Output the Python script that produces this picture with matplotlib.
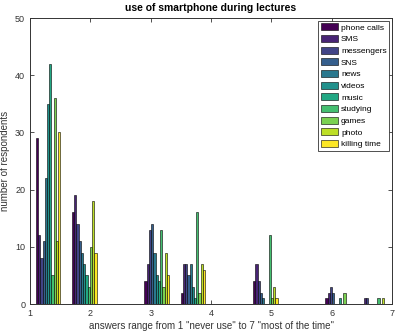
import numpy as np
import matplotlib
matplotlib.use("Agg")
import matplotlib.pyplot as plt

plt.rcParams['font.family'] = ['Liberation Sans', 'DejaVu Sans']

# histogram bin centres that hold data (bins of width 0.6 on [1, 7])
bin_centres = [1.3, 1.9, 3.1, 3.7, 4.9, 6.1, 6.7]
activities = ['phone calls', 'SMS', 'messengers', 'SNS', 'news', 'videos',
              'music', 'studying', 'games', 'photo', 'killing time']

# counts per activity, one value per bin centre
phone_calls  = [29, 16, 4, 2, 4, 1, 0]
sms          = [12, 19, 7, 7, 7, 2, 1]
messengers   = [8, 14, 13, 7, 4, 3, 1]
sns          = [11, 11, 14, 5, 2, 2, 0]
news         = [22, 9, 9, 7, 1, 0, 0]
videos       = [35, 7, 5, 3, 0, 0, 0]
music        = [42, 5, 4, 1, 0, 1, 0]
studying     = [5, 3, 13, 16, 12, 0, 1]
games        = [36, 10, 3, 2, 1, 2, 0]
photo        = [11, 18, 9, 7, 3, 0, 1]
killing_time = [30, 9, 5, 6, 1, 0, 0]

series = [phone_calls, sms, messengers, sns, news, videos,
          music, studying, games, photo, killing_time]

fig = plt.figure(figsize=(3.98, 3.34), dpi=100)
ax = fig.add_axes([0.0754, 0.0898, 0.9096, 0.8562])

colors = plt.cm.viridis(np.linspace(0, 1, len(series)))
n = len(series)
bw = 0.037
x = np.array(bin_centres)
for i, (vals, lab) in enumerate(zip(series, activities)):
    off = (i - (n - 1) / 2) * bw
    ax.bar(x + off, vals, width=bw, color=colors[i], edgecolor='black',
           linewidth=0.4, label=lab)

ax.set_xlim(1, 7)
ax.set_ylim(0, 50)
ax.set_xticks(range(1, 8))
ax.set_yticks(range(0, 51, 10))
ax.tick_params(direction='in', top=True, right=True, labelsize=6.5,
               length=3, width=0.6, colors='#333333', labelcolor='#333333')
for s in ax.spines.values():
    s.set_linewidth(0.7)
    s.set_color('#333333')

ax.set_title('use of smartphone during lectures', fontsize=7.5,
             fontweight='bold', pad=5)
ax.set_xlabel('answers range from 1 "never use" to 7 "most of the time"',
              fontsize=7, labelpad=2, color='#333333')
ax.set_ylabel('number of respondents', fontsize=7, labelpad=4, color='#333333')

leg = ax.legend(loc='upper right', fontsize=6, fancybox=False,
                edgecolor='#333333', framealpha=1, handlelength=2.1,
                handleheight=0.9, labelspacing=0.4, borderpad=0.3,
                handletextpad=0.3, borderaxespad=0.35)
leg.get_frame().set_linewidth(0.6)

fig.savefig('out.png', dpi=100)
